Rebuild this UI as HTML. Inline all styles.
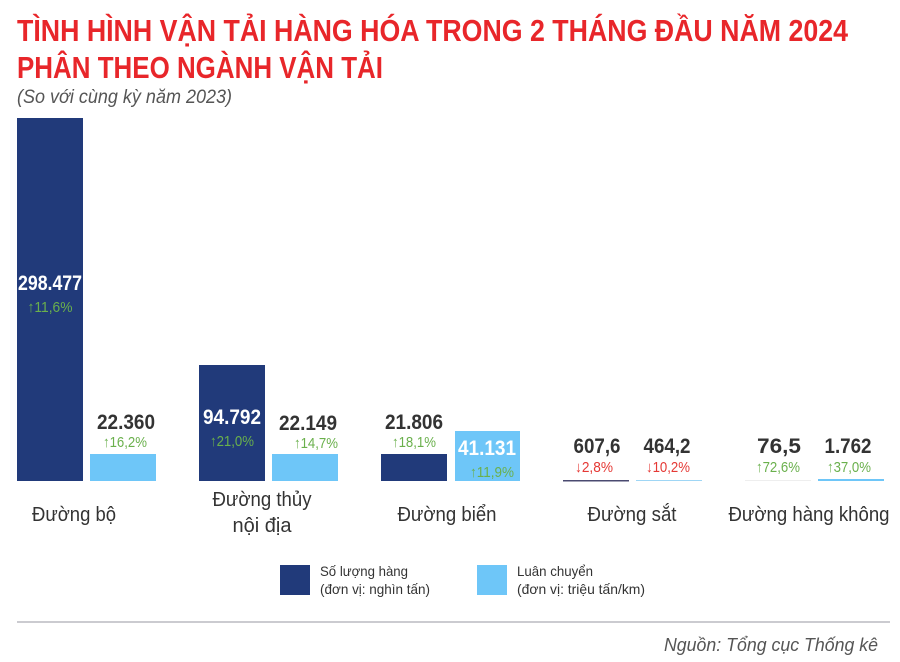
<!DOCTYPE html>
<html><head><meta charset="utf-8"><style>
body{margin:0;background:#fff;}
svg{display:block}
.t{font-family:"Liberation Sans",sans-serif;font-weight:bold;fill:#e8262a;font-size:31px}
.n{font-family:"Liberation Sans",sans-serif;font-weight:bold;font-size:21px;fill:#333;text-anchor:middle}
.w{fill:#fff}
.p{font-family:"Liberation Sans",sans-serif;font-size:15px;text-anchor:middle}
.g{fill:#6ab04c}.r{fill:#e53935}
.c{font-family:"Liberation Sans",sans-serif;font-size:20px;fill:#333;text-anchor:middle}
.l{font-family:"Liberation Sans",sans-serif;font-size:14px;fill:#333}
</style></head><body>
<svg width="900" height="662" viewBox="0 0 900 662" xmlns="http://www.w3.org/2000/svg">
<text class="t" x="17" y="41" textLength="831" lengthAdjust="spacingAndGlyphs">TÌNH HÌNH VẬN TẢI HÀNG HÓA TRONG 2 THÁNG ĐẦU  NĂM 2024</text>
<text class="t" x="17" y="78" textLength="366" lengthAdjust="spacingAndGlyphs">PHÂN THEO NGÀNH VẬN TẢI</text>
<text x="17" y="103" font-family="Liberation Sans,sans-serif" font-style="italic" font-size="19" fill="#555" textLength="215" lengthAdjust="spacingAndGlyphs">(So với cùng kỳ năm 2023)</text>

<rect x="17" y="118" width="66" height="363" fill="#213a7a"/>
<rect x="90" y="454" width="66" height="27" fill="#6ec6f8"/>
<rect x="199" y="365" width="66" height="116" fill="#213a7a"/>
<rect x="272" y="454" width="66" height="27" fill="#6ec6f8"/>
<rect x="381" y="454" width="66" height="27" fill="#213a7a"/>
<rect x="455" y="431" width="65" height="50" fill="#6ec6f8"/>
<rect x="563" y="480" width="66" height="1.5" fill="#4a4a70"/>
<rect x="636" y="480" width="66" height="1" fill="#9fd6f5"/>
<rect x="745" y="480" width="66" height="1" fill="#eee"/>
<rect x="818" y="479" width="66" height="2" fill="#6ec6f8"/>

<text class="n w" x="50" y="290" textLength="64" lengthAdjust="spacingAndGlyphs">298.477</text><text class="p g" x="50" y="312" textLength="45" lengthAdjust="spacingAndGlyphs">↑11,6%</text>
<text class="n" x="126" y="429" textLength="58" lengthAdjust="spacingAndGlyphs">22.360</text><text class="p g" x="125" y="447" textLength="44" lengthAdjust="spacingAndGlyphs">↑16,2%</text>
<text class="n w" x="232" y="424" textLength="58" lengthAdjust="spacingAndGlyphs">94.792</text><text class="p g" x="232" y="446" textLength="44" lengthAdjust="spacingAndGlyphs">↑21,0%</text>
<text class="n" x="308" y="430" textLength="58" lengthAdjust="spacingAndGlyphs">22.149</text><text class="p g" x="316" y="448" textLength="44" lengthAdjust="spacingAndGlyphs">↑14,7%</text>
<text class="n" x="414" y="429" textLength="58" lengthAdjust="spacingAndGlyphs">21.806</text><text class="p g" x="414" y="447" textLength="44" lengthAdjust="spacingAndGlyphs">↑18,1%</text>
<text class="n w" x="487" y="455" textLength="58" lengthAdjust="spacingAndGlyphs">41.131</text><text class="p g" x="492" y="477" textLength="44" lengthAdjust="spacingAndGlyphs">↑11,9%</text>
<text class="n" x="597" y="453" textLength="47" lengthAdjust="spacingAndGlyphs">607,6</text><text class="p r" x="594" y="472" textLength="38" lengthAdjust="spacingAndGlyphs">↓2,8%</text>
<text class="n" x="667" y="453" textLength="47" lengthAdjust="spacingAndGlyphs">464,2</text><text class="p r" x="668" y="472" textLength="44" lengthAdjust="spacingAndGlyphs">↓10,2%</text>
<text class="n" x="779" y="453" textLength="44" lengthAdjust="spacingAndGlyphs">76,5</text><text class="p g" x="778" y="472" textLength="44" lengthAdjust="spacingAndGlyphs">↑72,6%</text>
<text class="n" x="848" y="453" textLength="47" lengthAdjust="spacingAndGlyphs">1.762</text><text class="p g" x="849" y="472" textLength="44" lengthAdjust="spacingAndGlyphs">↑37,0%</text>

<text class="c" x="74" y="521" textLength="84" lengthAdjust="spacingAndGlyphs">Đường bộ</text>
<text class="c" x="262" y="506" textLength="99" lengthAdjust="spacingAndGlyphs">Đường thủy</text>
<text class="c" x="262" y="532" textLength="59" lengthAdjust="spacingAndGlyphs">nội địa</text>
<text class="c" x="447" y="521" textLength="99" lengthAdjust="spacingAndGlyphs">Đường biển</text>
<text class="c" x="632" y="521" textLength="89" lengthAdjust="spacingAndGlyphs">Đường sắt</text>
<text class="c" x="809" y="521" textLength="161" lengthAdjust="spacingAndGlyphs">Đường hàng không</text>

<rect x="280" y="565" width="30" height="30" fill="#213a7a"/>
<text class="l" x="320" y="576" textLength="88" lengthAdjust="spacingAndGlyphs">Số lượng hàng</text>
<text class="l" x="320" y="594" textLength="110" lengthAdjust="spacingAndGlyphs">(đơn vị: nghìn tấn)</text>
<rect x="477" y="565" width="30" height="30" fill="#6ec6f8"/>
<text class="l" x="517" y="576" textLength="76" lengthAdjust="spacingAndGlyphs">Luân chuyển</text>
<text class="l" x="517" y="594" textLength="128" lengthAdjust="spacingAndGlyphs">(đơn vị: triệu tấn/km)</text>

<rect x="17" y="621" width="873" height="2" fill="#cbcbd0"/>
<text x="878" y="651" text-anchor="end" font-family="Liberation Sans,sans-serif" font-style="italic" font-size="18" fill="#555" textLength="214" lengthAdjust="spacingAndGlyphs">Nguồn: Tổng cục Thống kê</text>
</svg>
</body></html>
